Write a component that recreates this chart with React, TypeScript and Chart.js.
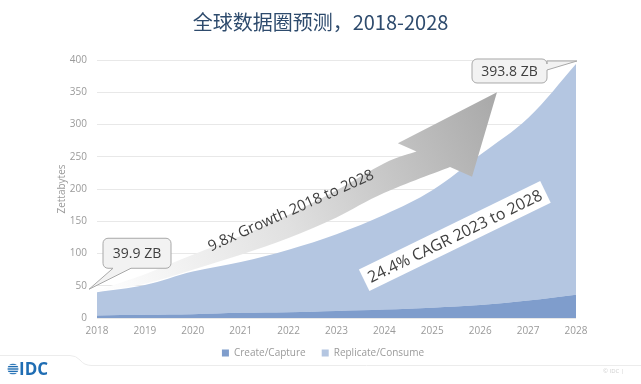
import React, { useEffect, useRef } from "react";
import { Chart, registerables } from "chart.js";

Chart.register(...registerables);

const titleText = "全球数据圈预测，2018-2028";
const years = ["2018", "2019", "2020", "2021", "2022", "2023", "2024", "2025", "2026", "2027", "2028"];
const createCapture = [4, 5, 6, 8, 9, 11, 13, 16, 20, 27, 36];
const replicateConsume = [35.9, 46, 66, 79, 97, 119, 147, 182, 233, 283, 357.8];
const yMin = 0;
const yMax = 400;
const yStep = 50;
const firstLabel = "39.9 ZB";
const lastLabel = "393.8 ZB";
const growthText = "9.8x Growth 2018 to 2028";
const cagrText = "24.4% CAGR 2023 to 2028";

// arrow annotation outline in (category index, value) space
const arrowUpper: [number, number][] = [[0, 43], [1, 68], [2, 98], [3, 127], [4, 160], [5, 198], [6, 240], [6.67, 258]];
const arrowLower: [number, number][] = [[0, 41], [1, 53], [2, 75], [3, 98], [4, 124], [5, 156], [6, 194], [7.37, 234]];
const arrowHead: [number, number][] = [[6.28, 271], [8.35, 350], [7.83, 219]];

const FONT = "'Open Sans', 'Noto Sans', sans-serif";

function smoothThrough(ctx: CanvasRenderingContext2D, pts: [number, number][]) {
  for (let i = 0; i < pts.length - 1; i++) {
    const p0 = pts[i - 1] || pts[i];
    const p1 = pts[i];
    const p2 = pts[i + 1];
    const p3 = pts[i + 2] || p2;
    ctx.bezierCurveTo(
      p1[0] + (p2[0] - p0[0]) / 6,
      p1[1] + (p2[1] - p0[1]) / 6,
      p2[0] - (p3[0] - p1[0]) / 6,
      p2[1] - (p3[1] - p1[1]) / 6,
      p2[0],
      p2[1]
    );
  }
}

function callout(
  ctx: CanvasRenderingContext2D,
  x: number, y: number, w: number, h: number, r: number,
  edge: "bottom" | "right", a: number, b: number, tx: number, ty: number,
  text: string
) {
  ctx.save();
  ctx.beginPath();
  ctx.moveTo(x + r, y);
  ctx.lineTo(x + w - r, y);
  ctx.arcTo(x + w, y, x + w, y + r, r);
  if (edge === "right") {
    ctx.lineTo(x + w, y + a);
    ctx.lineTo(tx, ty);
    ctx.lineTo(x + w, y + b);
  }
  ctx.lineTo(x + w, y + h - r);
  ctx.arcTo(x + w, y + h, x + w - r, y + h, r);
  if (edge === "bottom") {
    ctx.lineTo(x + b, y + h);
    ctx.lineTo(tx, ty);
    ctx.lineTo(x + a, y + h);
  }
  ctx.lineTo(x + r, y + h);
  ctx.arcTo(x, y + h, x, y + h - r, r);
  ctx.lineTo(x, y + r);
  ctx.arcTo(x, y, x + r, y, r);
  ctx.closePath();
  ctx.fillStyle = "#f2f2f2";
  ctx.fill();
  ctx.strokeStyle = "#a8a8a8";
  ctx.lineWidth = 1;
  ctx.stroke();
  ctx.fillStyle = "#404040";
  ctx.font = `14px ${FONT}`;
  ctx.textAlign = "center";
  ctx.textBaseline = "middle";
  ctx.fillText(text, x + w / 2, y + h / 2 + 1);
  ctx.restore();
}

const decorations = {
  id: "decorations",
  afterDatasetsDraw(chart: any) {
    const ctx: CanvasRenderingContext2D = chart.ctx;
    const xs = chart.scales.x;
    const ys = chart.scales.y;
    const P = (p: [number, number]): [number, number] => [xs.getPixelForValue(p[0]), ys.getPixelForValue(p[1])];

    // big growth arrow
    const up = arrowUpper.map(P);
    const lo = arrowLower.map(P).reverse();
    const head = arrowHead.map(P);
    ctx.save();
    const grad = ctx.createLinearGradient(up[0][0], up[0][1], head[1][0], head[1][1]);
    grad.addColorStop(0, "#ffffff");
    grad.addColorStop(0.45, "#e0e0e0");
    grad.addColorStop(1, "#a8a8a8");
    ctx.beginPath();
    ctx.moveTo(up[0][0], up[0][1]);
    smoothThrough(ctx, up);
    ctx.lineTo(head[0][0], head[0][1]);
    ctx.lineTo(head[1][0], head[1][1]);
    ctx.lineTo(head[2][0], head[2][1]);
    ctx.lineTo(lo[0][0], lo[0][1]);
    smoothThrough(ctx, lo);
    ctx.closePath();
    ctx.fillStyle = grad;
    ctx.fill();
    ctx.restore();

    // rotated texts
    const g = P([4.05, 166]);
    ctx.save();
    ctx.translate(g[0], g[1]);
    ctx.rotate((-24 * Math.PI) / 180);
    ctx.font = `15px ${FONT}`;
    ctx.fillStyle = "#404040";
    ctx.textAlign = "center";
    ctx.textBaseline = "middle";
    ctx.fillText(growthText, 0, 0);
    ctx.restore();

    const c = P([7.47, 127]);
    ctx.save();
    ctx.translate(c[0], c[1]);
    ctx.rotate((-26 * Math.PI) / 180);
    ctx.font = `16px ${FONT}`;
    const tw = ctx.measureText(cagrText).width;
    ctx.fillStyle = "#ffffff";
    ctx.fillRect(-tw / 2 - 5, -12, tw + 10, 24);
    ctx.fillStyle = "#404040";
    ctx.textAlign = "center";
    ctx.textBaseline = "middle";
    ctx.fillText(cagrText, 0, 1);
    ctx.restore();

    // callouts anchored to first and last totals
    const first = P([0, createCapture[0] + replicateConsume[0]]);
    const t1x = first[0] - 8;
    const t1y = first[1] - 3;
    callout(ctx, t1x + 14, t1y - 51, 68, 30, 5, "bottom", 10, 28, t1x, t1y, firstLabel);

    const n = years.length - 1;
    const last = P([n, createCapture[n] + replicateConsume[n]]);
    const t2x = last[0] + 1;
    const t2y = last[1] - 3;
    callout(ctx, t2x - 105, t2y - 2, 75, 24, 5, "right", 2, 11, t2x, t2y, lastLabel);
  },
  afterDraw(chart: any) {
    const ctx: CanvasRenderingContext2D = chart.ctx;
    ctx.save();
    // legend built from the datasets
    ctx.font = `10px ${FONT}`;
    ctx.textBaseline = "middle";
    ctx.textAlign = "left";
    const ds = chart.data.datasets;
    const box = 7;
    const gap = 5;
    const spacing = 16;
    const widths = ds.map((d: any) => box + gap + ctx.measureText(d.label).width);
    const total = widths.reduce((a: number, b: number) => a + b, 0) + spacing * (ds.length - 1);
    let lx = 323 - total / 2;
    const ly = 353;
    ds.forEach((d: any, i: number) => {
      ctx.fillStyle = d.backgroundColor;
      ctx.fillRect(lx, ly - box / 2, box, box);
      ctx.fillStyle = "#9a9a9a";
      ctx.fillText(d.label, lx + box + gap, ly + 0.5);
      lx += widths[i] + spacing;
    });

    // footer line
    ctx.strokeStyle = "#ececec";
    ctx.lineWidth = 1;
    ctx.beginPath();
    ctx.moveTo(0, 355.5);
    ctx.lineTo(70, 355.5);
    ctx.quadraticCurveTo(76, 355.5, 80, 360);
    ctx.quadraticCurveTo(84, 365.5, 92, 365.5);
    ctx.lineTo(641, 365.5);
    ctx.stroke();
    // IDC logo
    ctx.fillStyle = "#1f6db3";
    ctx.save();
    ctx.beginPath();
    ctx.arc(13, 369, 5.5, 0, Math.PI * 2);
    ctx.clip();
    for (let i = 0; i < 5; i++) {
      ctx.fillRect(7, 363.5 + i * 2.4, 12, 1.4);
    }
    ctx.restore();
    ctx.font = `bold 17px ${FONT}`;
    ctx.textBaseline = "alphabetic";
    ctx.textAlign = "left";
    ctx.fillText("IDC", 19, 375);
    ctx.fillStyle = "#d0d0d0";
    ctx.font = `6px ${FONT}`;
    ctx.fillText("© IDC |", 603, 373);
    ctx.restore();
  },
};

export default function App() {
  const ref = useRef<HTMLCanvasElement | null>(null);
  useEffect(() => {
    document.body.style.margin = "0";
    const canvas = ref.current;
    if (!canvas) return;
    Chart.defaults.font.family = FONT;
    const chart = new Chart(canvas, {
      type: "line",
      data: {
        labels: years,
        datasets: [
          {
            label: "Create/Capture",
            data: createCapture,
            backgroundColor: "#7f9dcc",
            borderColor: "#7f9dcc",
            borderWidth: 0,
            fill: "origin",
            pointRadius: 0,
            tension: 0.35,
          },
          {
            label: "Replicate/Consume",
            data: replicateConsume,
            backgroundColor: "#b4c6e1",
            borderColor: "#b4c6e1",
            borderWidth: 0,
            fill: "-1",
            pointRadius: 0,
            tension: 0.35,
          },
        ],
      },
      options: {
        responsive: false,
        animation: false,
        layout: { padding: { left: 0, right: 0, top: 0, bottom: 40 } },
        plugins: {
          title: {
            display: true,
            text: titleText,
            color: "#2e4b6d",
            font: { family: "'Noto Sans CJK SC', sans-serif", size: 20, weight: "normal" },
            padding: { top: 10, bottom: 26 },
          },
          legend: { display: false },
          tooltip: { enabled: false },
        },
        scales: {
          x: {
            grid: { display: false, drawTicks: false },
            border: { display: false },
            ticks: { color: "#9a9a9a", font: { size: 10 }, padding: 7, maxRotation: 0 },
          },
          y: {
            stacked: true,
            min: yMin,
            max: yMax,
            ticks: { stepSize: yStep, color: "#9a9a9a", font: { size: 10 }, padding: 10 },
            grid: { color: "#e8e8e8", drawTicks: false },
            border: { display: false },
            title: {
              display: true,
              text: "Zettabytes",
              color: "#9a9a9a",
              font: { size: 10 },
              padding: { top: 56, bottom: 0 },
            },
            afterFit: (s: any) => {
              s.width = 97;
            },
          },
          yRight: {
            position: "right",
            display: true,
            grid: { display: false, drawTicks: false },
            border: { display: false },
            ticks: { display: false },
            afterFit: (s: any) => {
              s.width = 65;
            },
          },
        },
      },
      plugins: [decorations],
    } as any);
    return () => chart.destroy();
  }, []);
  return (
    <div style={{ position: "fixed", left: 0, top: 0, width: 641, height: 384, background: "#fff" }}>
      <canvas ref={ref} width={641} height={384} style={{ display: "block" }} />
    </div>
  );
}
